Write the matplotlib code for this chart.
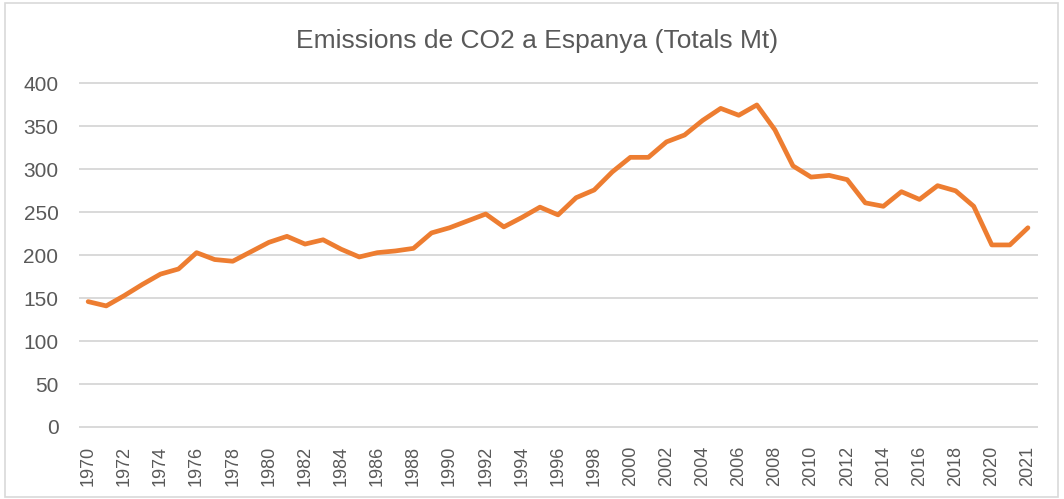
import matplotlib
matplotlib.use("Agg")
import matplotlib.pyplot as plt
from matplotlib.patches import Rectangle

# Annual CO2 emissions in Spain (Mt), one value per category on the x axis
emissions = [
    146, 141, 153, 166, 178, 184, 203, 195, 193, 204,
    215, 222, 213, 218, 207, 198, 203, 205, 208, 226,
    232, 240, 248, 233, 244, 256, 247, 267, 276, 297,
    314, 314, 332, 340, 357, 371, 363, 375, 346, 304,
    291, 293, 288, 261, 257, 274, 265, 281, 275, 257,
    212, 212, 232,
]

# Category labels shown along the x axis (every second category)
tick_labels = [
    "1970", "1972", "1974", "1976", "1978", "1980", "1982", "1984", "1986",
    "1988", "1990", "1992", "1994", "1996", "1998", "2000", "2002", "2004",
    "2006", "2008", "2010", "2012", "2014", "2016", "2018", "2020", "2021",
]

y_ticks = [0, 50, 100, 150, 200, 250, 300, 350, 400]

title = "Emissions de CO2 a Espanya (Totals Mt)"

plt.rcParams["font.family"] = ["Liberation Sans", "DejaVu Sans"]
text_color = "#595959"
grid_color = "#D9D9D9"
line_color = "#ED7D31"

fig = plt.figure(figsize=(10.64, 4.99), dpi=100)
fig.patch.set_facecolor("white")

# light chart-area frame
fig.add_artist(Rectangle((0.005, 0.004), 0.989, 0.99, transform=fig.transFigure,
                         fill=False, edgecolor="#D9D9D9", linewidth=1.2))

ax = fig.add_axes([0.0752, 0.1443, 0.8994, 0.6884])

x = list(range(len(emissions)))
ax.plot(x, emissions, color=line_color, linewidth=3.4,
        solid_joinstyle="round", solid_capstyle="round", zorder=3)

ax.set_ylim(0, 400)
ax.set_xlim(-0.45, len(emissions) - 0.5)
ax.set_yticks(y_ticks)
ax.set_yticklabels([str(v) for v in y_ticks])
ax.set_xticks(list(range(0, len(emissions), 2)))
ax.set_xticklabels(tick_labels, rotation=90)

for v in y_ticks:
    ax.axhline(v, color=grid_color, linewidth=1.4, zorder=1, clip_on=False)

for s in ax.spines.values():
    s.set_visible(False)

ax.tick_params(axis="both", length=0, colors=text_color)
ax.tick_params(axis="y", labelsize=15, pad=15.5)
ax.tick_params(axis="x", labelsize=13, pad=13.5)

fig.text(0.505, 0.918, title, ha="center", va="center",
         fontsize=19, color=text_color)

fig.savefig("out.png", dpi=100, facecolor="white")
